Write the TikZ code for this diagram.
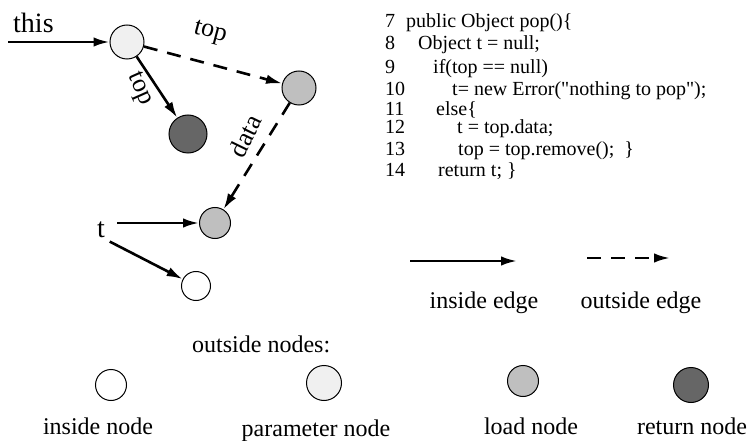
\documentclass[tikz,border=0pt]{standalone}
\usepackage{fontspec}
\setmainfont{Liberation Serif}[Ligatures=TeXOff]
\usetikzlibrary{arrows.meta}
\begin{document}
\begin{tikzpicture}[x=1pt,y=-1pt,
  nd/.style={circle,draw,line width=1pt,inner sep=0pt},
  insidend/.style={nd,fill=white},
  paramnd/.style={nd,fill=black!6},
  loadnd/.style={nd,fill=black!25},
  retnd/.style={nd,fill=black!60},
  inedge/.style={line width=2.6pt,-{Latex[length=16pt,width=9.5pt]}},
  outedge/.style={inedge,dash pattern=on 14pt off 10pt},
  big/.style={font=\fontsize{28}{32}\selectfont,inner sep=0pt},
  elbl/.style={font=\fontsize{26}{30}\selectfont,inner sep=0pt},
  lbl/.style={font=\fontsize{24}{28}\selectfont,inner sep=0pt,anchor=base},
  codetxt/.style={font=\fontsize{20}{24}\selectfont,anchor=base west,inner sep=0pt}]
\useasboundingbox (0,0) rectangle (753,441);

% ---- graph ----
\node[big,anchor=base west] (this) at (13,33) {this};
\coordinate (thisstart) at (8,42);
\node[paramnd,minimum size=34pt] (P) at (127,42) {};
\node[loadnd,minimum size=34pt] (L1) at (299,88) {};
\node[retnd,minimum size=38pt] (R) at (188,134) {};
\node[loadnd,minimum size=31pt] (L2) at (215,223) {};
\node[insidend,minimum size=29pt] (I) at (196,286) {};
\node[big,inner sep=2pt] (t) at (101,230) {t};

\draw[inedge] (thisstart) -- (P);
\draw[outedge] (P) -- (L1);
\draw[inedge] (P) -- (R);
\draw[outedge] (L1) -- (L2);
\draw[inedge,shorten <=10pt] (t.east |- L2) -- (L2);
\draw[inedge,shorten <=3pt] (t.south east) -- (I);

\node[elbl,rotate=-15] (ltop1) at (210,33) {top};
\node[elbl,rotate=-66] (ltop2) at (139,89) {top};
\node[elbl,rotate=64] (ldata) at (245,136) {data};

% ---- code ----
\foreach \n/\y in {7/28,8/50,9/74,10/96,11/116,12/134,13/156,14/177}
  \node[codetxt] (num\n) at (385,\y) {\n};
\node[codetxt] (c7) at (406,28) {public Object pop()\{};
\node[codetxt] (c8) at (418,50) {Object t = null;};
\node[codetxt] (c9) at (433,74) {if(top == null)};
\node[codetxt] (c10) at (452,96) {t= new Error("nothing to pop");};
\node[codetxt] (c11) at (436,116) {else\{};
\node[codetxt] (c12) at (457,134) {t = top.data;};
\node[codetxt] (c13) at (458,156) {top = top.remove();\ \ \}};
\node[codetxt] (c14) at (438,177) {return t; \}};

% ---- edge legend ----
\coordinate (ie1) at (410,261);
\coordinate (ie2) at (517,261);
\coordinate (oe1) at (587,258);
\coordinate (oe2) at (670,258);
\draw[inedge] (ie1) -- (ie2);
\draw[outedge] (oe1) -- (oe2);
\node[lbl] (inedgelbl) at (484,308) {inside edge};
\node[lbl] (outedgelbl) at (641,308) {outside edge};

% ---- node legend ----
\node[lbl,anchor=base west] (outnodes) at (192,352) {outside nodes:};
\node[insidend,minimum size=31pt] (LI) at (111,385) {};
\node[paramnd,minimum size=35pt] (LP) at (324,383) {};
\node[loadnd,minimum size=31pt] (LL) at (523,381) {};
\node[retnd,minimum size=35pt] (LR) at (691,385) {};
\node[lbl] (LIt) at (98,434) {inside node};
\node[lbl] (LPt) at (316,436) {parameter node};
\node[lbl] (LLt) at (531,434) {load node};
\node[lbl] (LRt) at (692,434) {return node};
\end{tikzpicture}
\end{document}
